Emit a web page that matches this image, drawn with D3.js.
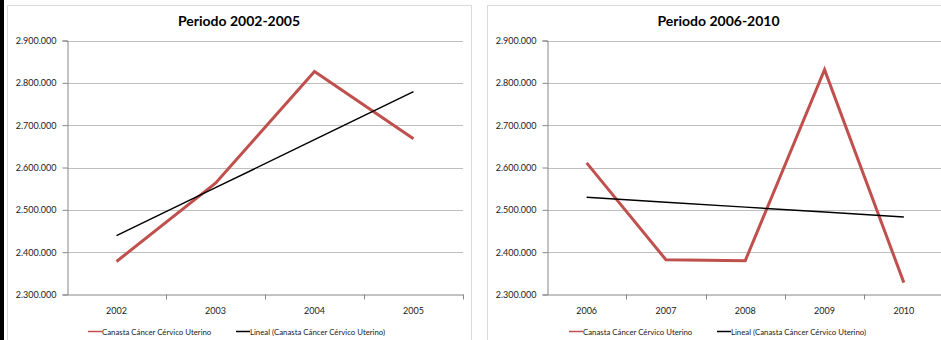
<!DOCTYPE html>
<html>
<head>
<meta charset="utf-8">
<script src="https://cdn.jsdelivr.net/npm/d3@7"></script>
<style>
  body { margin: 0; background: #fff; }
  svg { display: block; font-family: Lato, "Open Sans", sans-serif; }
</style>
</head>
<body>
<svg width="941" height="340"></svg>
<script>
// values
var years1 = ["2002", "2003", "2004", "2005"];
var values1 = [2378000, 2563000, 2827000, 2668000];
var years2 = ["2006", "2007", "2008", "2009", "2010"];
var values2 = [2611000, 2382000, 2380000, 2831000, 2328000];
var yTicks = [2300000, 2400000, 2500000, 2600000, 2700000, 2800000, 2900000];
var seriesName = "Canasta Cáncer Cérvico Uterino";
var trendName = "Lineal (Canasta Cáncer Cérvico Uterino)";

var svg = d3.select("svg"),
    width = +svg.attr("width"),
    height = +svg.attr("height");

var es = d3.formatLocale({ decimal: ",", thousands: ".", grouping: [3], currency: ["", ""] });
var fmt = es.format(",.0f");

var red = "#c0504d";

// excel-style linear trendline (least squares over category index)
function trend(vals) {
  var n = vals.length, mx = (n - 1) / 2, my = d3.mean(vals);
  var sxy = d3.sum(vals, (v, i) => (i - mx) * (v - my));
  var sxx = d3.sum(vals, (v, i) => (i - mx) * (i - mx));
  var b = sxy / sxx, a = my - b * mx;
  return vals.map((v, i) => a + b * i);
}

svg.append("rect").attr("x", 0).attr("y", 0).attr("width", 4).attr("height", height).attr("fill", "#000");

function drawChart(p) {
  var g = svg.append("g");

  g.append("rect")
    .attr("x", p.boxX + 0.5).attr("y", 5.5)
    .attr("width", p.boxW).attr("height", height)
    .attr("fill", "#fff").attr("stroke", "#d9d9d9");

  g.append("text")
    .attr("x", p.boxX + p.boxW / 2).attr("y", 26)
    .attr("text-anchor", "middle")
    .attr("font-size", 14).attr("font-weight", "bold").attr("fill", "#000")
    .text(p.title);

  var x = d3.scaleBand().domain(p.cats).range([p.left, p.right]);
  var y = d3.scaleLinear().domain([2300000, 2900000]).range([294.5, 40.5]);

  // gridlines
  g.append("g").selectAll("line")
    .data(yTicks.slice(1))
    .enter().append("line")
      .attr("x1", p.left).attr("x2", p.right)
      .attr("y1", d => Math.round(y(d)) + 0.5).attr("y2", d => Math.round(y(d)) + 0.5)
      .attr("stroke", "#bfbfbf");

  var yAxis = g.append("g")
    .attr("transform", "translate(" + (p.left + 0.5) + ",0)")
    .call(d3.axisLeft(y).tickValues(yTicks).tickFormat(fmt).tickSize(5).tickPadding(6));
  var xAxis = g.append("g")
    .attr("transform", "translate(0," + 294.5 + ")")
    .call(d3.axisBottom(x).tickSize(0).tickPadding(13));

  // tick marks between categories
  xAxis.selectAll(".sep")
    .data(d3.range(1, p.cats.length + 1))
    .enter().append("line")
      .attr("class", "sep")
      .attr("x1", i => Math.round(p.left + i * x.step()) + 0.5)
      .attr("x2", i => Math.round(p.left + i * x.step()) + 0.5)
      .attr("y1", 0).attr("y2", 5)
      .attr("stroke", "#868686");

  [yAxis, xAxis].forEach(a => {
    a.select(".domain").attr("stroke", "#868686");
    a.selectAll(".tick line").attr("stroke", "#868686");
    a.selectAll("text").attr("font-size", 9).attr("fill", "#1a1a1a").attr("font-family", "Lato, sans-serif");
  });

  var line = d3.line()
    .x((d, i) => x(p.cats[i]) + x.bandwidth() / 2)
    .y(d => y(d));

  g.append("path")
    .datum(p.vals)
    .attr("fill", "none").attr("stroke", red)
    .attr("stroke-width", 3).attr("stroke-linejoin", "miter")
    .attr("d", line);

  g.append("path")
    .datum(trend(p.vals))
    .attr("fill", "none").attr("stroke", "#000")
    .attr("stroke-width", 1.5)
    .attr("d", line);

  // legend
  var lg = g.append("g").attr("font-size", 7.8).attr("fill", "#1a1a1a");
  [[seriesName, red, p.leg1], [trendName, "#000", p.leg2]].forEach(l => {
    lg.append("line")
      .attr("x1", l[2]).attr("x2", l[2] + 14)
      .attr("y1", 331.5).attr("y2", 331.5)
      .attr("stroke", l[1]).attr("stroke-width", 1.5);
    lg.append("text")
      .attr("x", l[2] + 14).attr("y", 334.5)
      .text(l[0]);
  });
}

drawChart({ title: "Periodo 2002-2005", cats: years1, vals: values1,
  boxX: 7, boxW: 464, left: 67, right: 463, leg1: 88, leg2: 236 });
drawChart({ title: "Periodo 2006-2010", cats: years2, vals: values2,
  boxX: 487, boxW: 463, left: 547, right: 943.5, leg1: 569, leg2: 717 });
</script>
</body>
</html>
